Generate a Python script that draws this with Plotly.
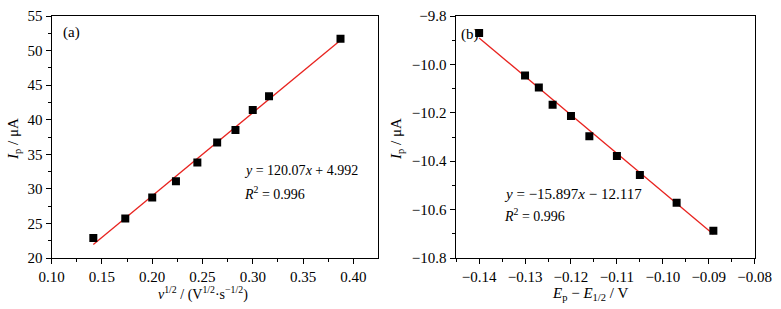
import plotly.graph_objects as go

# Panel (a): peak current vs square root of scan rate
sqrt_v = [0.1414, 0.1732, 0.2000, 0.2236, 0.2449, 0.2646, 0.2828, 0.3000, 0.3162, 0.3873]
ip_a = [22.9, 25.7, 28.75, 31.1, 33.8, 36.7, 38.5, 41.4, 43.4, 51.7]
fit_a_x = [0.1414, 0.3873]
fit_a_y = [21.97, 51.49]

# Panel (b): peak current vs Ep - E1/2
dE = [-0.140, -0.130, -0.127, -0.124, -0.120, -0.116, -0.110, -0.105, -0.097, -0.089]
ip_b = [-9.870, -10.046, -10.095, -10.167, -10.213, -10.297, -10.378, -10.457, -10.572, -10.687]
fit_b_x = [-0.140, -0.089]
fit_b_y = [-9.891, -10.702]

FONT = "Liberation Serif, Times New Roman, Times, serif"
marker = dict(symbol="square", size=8, color="black")
line = dict(color="#e8231f", width=1.3)

fig = go.Figure()
fig.add_trace(go.Scatter(x=fit_a_x, y=fit_a_y, mode="lines", line=line, xaxis="x", yaxis="y", showlegend=False))
fig.add_trace(go.Scatter(x=sqrt_v, y=ip_a, mode="markers", marker=marker, xaxis="x", yaxis="y", showlegend=False))
fig.add_trace(go.Scatter(x=fit_b_x, y=fit_b_y, mode="lines", line=line, xaxis="x2", yaxis="y2", showlegend=False))
fig.add_trace(go.Scatter(x=dE, y=ip_b, mode="markers", marker=marker, xaxis="x2", yaxis="y2", showlegend=False))

W, H = 781, 309
def fx(px):
    return px / W
def fy(py):
    return 1 - py / H

axis_common = dict(
    showline=True, linecolor="black", linewidth=1.3, mirror=True,
    ticks="outside", ticklen=5, tickwidth=1.2, tickcolor="black",
    showgrid=False, zeroline=False, automargin=False,
    tickfont=dict(family=FONT, size=15, color="black"),
)
minor = dict(ticks="outside", ticklen=3, tickwidth=1.2, tickcolor="black", showgrid=False)

fig.update_layout(
    width=W, height=H,
    margin=dict(l=0, r=0, t=0, b=0),
    paper_bgcolor="white", plot_bgcolor="white",
    font=dict(family=FONT, color="black"),
    xaxis=dict(axis_common, domain=[fx(51.7), fx(377.7)], range=[0.10, 0.4243],
               tick0=0.10, dtick=0.05, tickformat=".2f", minor=dict(minor, dtick=0.025), anchor="y"),
    yaxis=dict(axis_common, domain=[fy(258), fy(16)], range=[20, 55],
               tick0=20, dtick=5, minor=dict(minor, dtick=2.5), anchor="x"),
    xaxis2=dict(axis_common, domain=[fx(455.7), fx(754.7)], range=[-0.1451, -0.08],
                tick0=-0.14, dtick=0.01, tickformat=".2f", minor=dict(minor, dtick=0.005), anchor="y2"),
    yaxis2=dict(axis_common, domain=[fy(258), fy(16)], range=[-10.8, -9.8],
                tick0=-10.8, dtick=0.2, tickformat=".1f", minor=dict(minor, dtick=0.1), anchor="x2"),
)

def ann(text, x, y, xanchor="left", yanchor="middle", size=15, angle=0):
    fig.add_annotation(text=text, x=fx(x), y=fy(y), xref="paper", yref="paper",
                       xanchor=xanchor, yanchor=yanchor, showarrow=False, textangle=angle,
                       font=dict(family=FONT, size=size, color="black"))

ann("(a)", 61, 33)
ann("(b)", 459, 34)
ann("<i>y</i> = 120.07<i>x</i> + 4.992", 241.5, 170.5, size=14)
ann("<i>R</i><sup>2</sup> = 0.996", 241.5, 192.5, size=14)
ann("<i>y</i> = −15.897<i>x</i> − 12.117", 502, 193.5)
ann("<i>R</i><sup>2</sup> = 0.996", 502, 215, size=14)
ann("<i>I</i><sub>p</sub> / μA", 14, 139, xanchor="center", angle=-90)
ann("<i>I</i><sub>p</sub> / μA", 397, 139, xanchor="center", angle=-90)
ann("<i>v</i><sup>1/2</sup> / (V<sup>1/2</sup>·s<sup>−1/2</sup>)", 203, 293, xanchor="center", size=14)
ann("<i>E</i><sub>p</sub> − <i>E</i><sub>1/2</sub> / V", 590, 294, xanchor="center")

fig.write_html("out.html", config={"displayModeBar": False},
               post_script="document.body.style.margin='0';document.body.style.padding='0';")
